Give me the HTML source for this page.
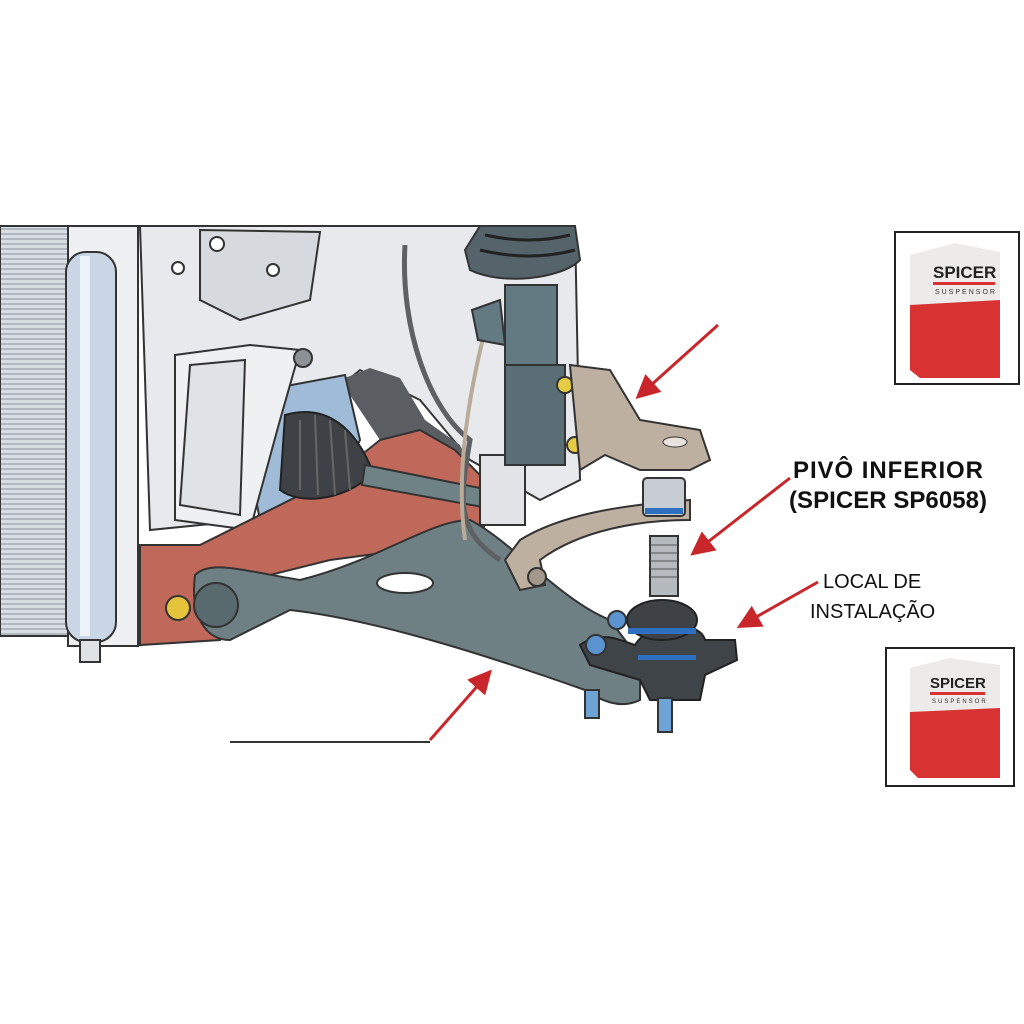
<!DOCTYPE html>
<html><head><style>
body{margin:0;background:#fff;}
svg{display:block}
text{font-family:"Liberation Sans",sans-serif}
</style></head><body>
<svg width="1024" height="1024" viewBox="0 0 1024 1024" xmlns="http://www.w3.org/2000/svg">
<defs>
<pattern id="fins" width="8" height="5" patternUnits="userSpaceOnUse"><rect width="8" height="5" fill="#d8dde3"/><line x1="0" y1="4" x2="8" y2="4" stroke="#8a939c" stroke-width="1"/></pattern>
<marker id="ah" markerWidth="8" markerHeight="8" refX="6" refY="4" orient="auto" markerUnits="strokeWidth"><path d="M0,0 L8,4 L0,8 Z" fill="#c8262a"/></marker>
</defs>
<path d="M140,226 L575,226 L580,480 L540,500 L470,460 L420,400 L360,370 L300,420 L250,520 L150,530 Z" fill="#e7e9ec" stroke="#333" stroke-width="2"/>
<path d="M200,230 L320,232 L310,300 L240,320 L200,300 Z" fill="#d6dade" stroke="#333" stroke-width="2"/>
<circle cx="217" cy="244" r="7" fill="#fff" stroke="#333" stroke-width="2"/>
<circle cx="178" cy="268" r="6" fill="#fff" stroke="#333" stroke-width="2"/>
<circle cx="273" cy="270" r="6" fill="#fff" stroke="#333" stroke-width="2"/>
<path d="M340,380 L370,368 L400,378 L425,420 L460,445 L470,470 L430,460 L380,440 Z" fill="#5a5d62"/>
<path d="M265,390 L345,375 L360,440 L330,500 L260,520 L250,470 Z" fill="#9fbbd8" stroke="#333" stroke-width="2"/>
<path d="M175,355 L250,345 L300,350 L280,420 L250,530 L175,520 Z" fill="#eef0f2" stroke="#333" stroke-width="2"/>
<path d="M190,365 L245,360 L240,515 L180,505 Z" fill="#dfe2e6" stroke="#333" stroke-width="2"/>
<circle cx="303" cy="358" r="9" fill="#8d9196" stroke="#333" stroke-width="2"/>
<rect x="0" y="226" width="70" height="410" fill="url(#fins)" stroke="#333" stroke-width="2"/>
<rect x="68" y="226" width="70" height="420" fill="#eef0f2" stroke="#333" stroke-width="2"/>
<rect x="66" y="252" width="50" height="390" rx="20" fill="#c9d6e6" stroke="#333" stroke-width="2"/>
<rect x="80" y="256" width="10" height="380" fill="#eef3f8"/>
<rect x="80" y="640" width="20" height="22" fill="#e0e3e6" stroke="#333" stroke-width="2"/>
<path d="M140,545 L200,545 L330,480 L380,440 L420,430 L455,450 L495,490 L480,540 L330,560 L230,585 L220,640 L140,645 Z" fill="#c0685a" stroke="#333" stroke-width="2"/>
<circle cx="178" cy="608" r="12" fill="#e5c33b" stroke="#333" stroke-width="2"/>
<path d="M285,415 C320,405 350,420 370,465 L365,480 C340,500 300,505 280,490 Z" fill="#3e4145" stroke="#222" stroke-width="2"/>
<path d="M300,420 L300,490 M315,415 L318,495 M330,420 L335,495 M345,430 L350,490" stroke="#666" stroke-width="2"/>
<path d="M365,465 L490,490 L488,508 L362,485 Z" fill="#6f8387" stroke="#333" stroke-width="2"/>
<rect x="480" y="455" width="45" height="70" fill="#e1e3e6" stroke="#333" stroke-width="2"/>
<path d="M195,575 C210,560 240,570 300,580 C380,560 430,520 470,520 C510,540 560,600 610,620 L640,660 L640,700 C620,710 600,700 585,690 C500,660 380,620 290,610 L230,640 C205,640 190,615 195,575 Z" fill="#6f8085" stroke="#333" stroke-width="2"/>
<ellipse cx="405" cy="583" rx="28" ry="10" fill="#fff" stroke="#333" stroke-width="2"/>
<circle cx="216" cy="605" r="22" fill="#596a6f" stroke="#333" stroke-width="2"/>
<path d="M405,245 C400,330 430,410 470,440 C460,500 455,530 500,560" fill="none" stroke="#5e6063" stroke-width="5"/>
<path d="M485,330 C470,390 455,470 465,540" fill="none" stroke="#b9ab98" stroke-width="4"/>
<path d="M480,226 L575,226 L580,260 C560,280 500,285 470,270 L465,250 Z" fill="#55646b" stroke="#333" stroke-width="2"/>
<path d="M485,235 Q530,245 570,235 M480,250 Q530,262 575,250" stroke="#222" stroke-width="3" fill="none"/>
<rect x="505" y="285" width="52" height="85" fill="#647a82" stroke="#333" stroke-width="2"/>
<path d="M472,310 L500,300 L505,345 L478,340 Z" fill="#647a82" stroke="#333" stroke-width="2"/>
<rect x="505" y="365" width="60" height="100" fill="#5a6e76" stroke="#333" stroke-width="2"/>
<circle cx="565" cy="385" r="8" fill="#e4cb43" stroke="#333" stroke-width="2"/>
<circle cx="575" cy="445" r="8" fill="#e4cb43" stroke="#333" stroke-width="2"/>
<path d="M570,365 L610,370 L640,420 L700,430 L710,460 L690,470 L640,470 L605,455 L580,470 Z" fill="#bdb0a0" stroke="#333" stroke-width="2"/>
<ellipse cx="675" cy="442" rx="12" ry="5" fill="#e7e2dc" stroke="#333"/>
<path d="M520,540 C560,515 620,505 690,500 L690,520 C640,520 580,530 540,560 L545,585 L520,590 L505,560 Z" fill="#bdb0a0" stroke="#333" stroke-width="2"/>
<circle cx="537" cy="577" r="9" fill="#a2978a" stroke="#333" stroke-width="2"/>
<rect x="643" y="478" width="42" height="38" rx="4" fill="#c7cdd2" stroke="#333" stroke-width="2"/>
<rect x="645" y="508" width="38" height="6" fill="#2f6fbf"/>
<rect x="650" y="536" width="28" height="60" fill="#b5babf" stroke="#333" stroke-width="2"/>
<path d="M650,545 H678 M650,553 H678 M650,561 H678 M650,569 H678 M650,577 H678" stroke="#555"/>
<path d="M580,645 C600,630 620,640 635,645 C650,620 700,620 705,640 L735,640 L737,660 L705,675 L700,700 L650,700 L640,680 L590,665 Z" fill="#3f4448" stroke="#222" stroke-width="2"/>
<ellipse cx="662" cy="620" rx="35" ry="20" fill="#3e4246" stroke="#222" stroke-width="2"/>
<rect x="628" y="628" width="68" height="6" fill="#2f6fbf"/>
<rect x="638" y="655" width="58" height="5" fill="#2f6fbf"/>
<rect x="585" y="690" width="14" height="28" fill="#6fa3d6" stroke="#333" stroke-width="2"/>
<rect x="658" y="698" width="14" height="34" fill="#6fa3d6" stroke="#333" stroke-width="2"/>
<circle cx="596" cy="645" r="10" fill="#5b93d1" stroke="#333" stroke-width="2"/>
<circle cx="617" cy="620" r="9" fill="#5b93d1" stroke="#333" stroke-width="2"/>
<g stroke="#c8262a" stroke-width="3" fill="none">
<line x1="718" y1="325" x2="640" y2="395" marker-end="url(#ah)"/>
<line x1="790" y1="478" x2="695" y2="552" marker-end="url(#ah)"/>
<line x1="818" y1="582" x2="742" y2="625" marker-end="url(#ah)"/>
<line x1="430" y1="740" x2="488" y2="674" marker-end="url(#ah)"/>
</g>
<line x1="230" y1="742" x2="430" y2="742" stroke="#333" stroke-width="2"/>
<text x="793" y="478" font-size="24" font-weight="bold" fill="#111" textLength="190">PIVÔ INFERIOR</text>
<text x="789" y="508" font-size="24" font-weight="bold" fill="#111" textLength="198">(SPICER SP6058)</text>
<text x="823" y="588" font-size="20" fill="#111">LOCAL DE</text>
<text x="810" y="618" font-size="20" fill="#111">INSTALAÇÃO</text>
<g>
<rect x="895" y="232" width="124" height="152" fill="#fff" stroke="#222" stroke-width="2"/>
<path d="M910,255 L955,243 L1000,252 L1000,378 L920,378 L910,370 Z" fill="#ecebea"/>
<path d="M910,305 L1000,300 L1000,378 L920,378 L910,370 Z" fill="#d93232"/>
<text x="933" y="278" font-size="17" font-weight="bold" fill="#222">SPICER</text>
<rect x="933" y="282" width="62" height="3" fill="#d93232"/>
<text x="935" y="294" font-size="7" fill="#333" letter-spacing="2">SUSPENSOR</text>
</g>
<g>
<rect x="886" y="648" width="128" height="138" fill="#fff" stroke="#222" stroke-width="2"/>
<path d="M910,668 L950,658 L1000,665 L1000,778 L918,778 L910,770 Z" fill="#ecebea"/>
<path d="M910,712 L1000,708 L1000,778 L918,778 L910,770 Z" fill="#d93232"/>
<text x="930" y="688" font-size="15" font-weight="bold" fill="#222">SPICER</text>
<rect x="930" y="692" width="55" height="3" fill="#d93232"/>
<text x="932" y="703" font-size="6" fill="#333" letter-spacing="2">SUSPENSOR</text>
</g>
</svg>
</body></html>
